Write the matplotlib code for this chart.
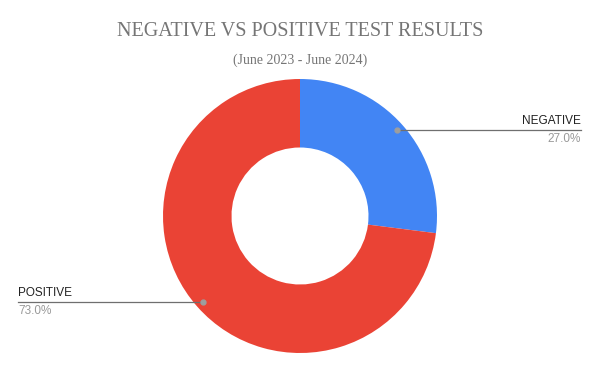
import numpy as np
import matplotlib
matplotlib.use("Agg")
import matplotlib.pyplot as plt

labels = ["NEGATIVE", "POSITIVE"]
shares = [27.0, 73.0]
colors = ["#4285F4", "#EA4335"]

W, H = 600, 371
CX, CY = 300, H - 216
R = 137

fig = plt.figure(figsize=(6, 3.71), dpi=100, facecolor="white")
ax = fig.add_axes([0, 0, 1, 1])
ax.pie(shares, colors=colors, startangle=90, counterclock=False,
       center=(CX, CY), radius=R,
       wedgeprops=dict(width=R * 0.5, linewidth=0))
ax.set_xlim(0, W)
ax.set_ylim(0, H)
ax.set_aspect("equal")
ax.axis("off")

fig.text(0.5, 1 - 31 / H, "NEGATIVE VS POSITIVE TEST RESULTS", ha="center", va="center",
         fontsize=14.5, color="#757575", family="Liberation Serif")
fig.text(0.5, 1 - 60 / H, "(June 2023 - June 2024)", ha="center", va="center",
         fontsize=10, color="#757575", family="Liberation Serif")

# leader lines from wedge mid-angles
total = sum(shares)
start = 90.0
for lab, val in zip(labels, shares):
    sweep = 360 * val / total
    mid = np.deg2rad(start - sweep / 2)
    start -= sweep
    dx, dy = CX + 0.945 * R * np.cos(mid), CY + 0.945 * R * np.sin(mid)
    if np.cos(mid) >= 0:
        x_end, ha = 581, "right"
    else:
        x_end, ha = 18, "left"
    ax.plot([dx, x_end], [dy, dy], color="#6f6f6f", lw=0.9, zorder=5)
    ax.plot([dx], [dy], "o", color="#9e9e9e", ms=3.5, zorder=6)
    ax.text(x_end, dy + 3, lab, ha=ha, va="bottom", fontsize=8.5,
            color="#222222", family="Liberation Sans")
    ax.text(x_end, dy - 3, f"{val:.1f}%", ha=ha, va="top", fontsize=8.5,
            color="#999999", family="Liberation Sans")

fig.savefig("out.png", dpi=100, facecolor="white")
